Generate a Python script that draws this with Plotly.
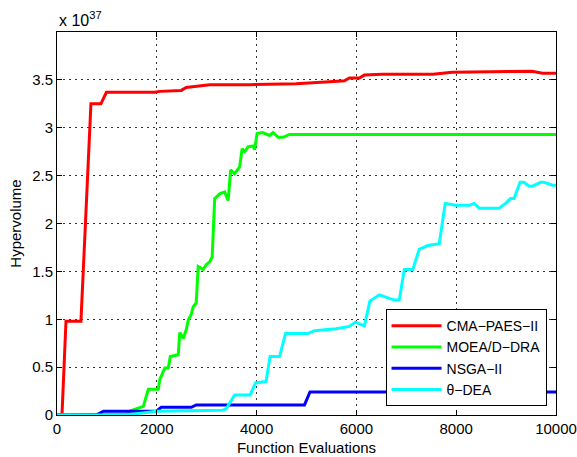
import plotly.graph_objects as go

# ---- data ----
cma_x = [0, 100, 180, 480, 680, 880, 990, 1960, 2060, 2490, 2590, 2860, 3060, 3860, 4790,
         5460, 5760, 5860, 6060, 6160, 6520, 7530, 7920, 9520, 9730, 10000]
cma_y = [0, 0, 0.98, 0.98, 3.25, 3.25, 3.37, 3.37, 3.38, 3.39, 3.42, 3.44, 3.45, 3.45, 3.46,
         3.48, 3.49, 3.52, 3.52, 3.55, 3.56, 3.56, 3.58, 3.59, 3.57, 3.57]

moead_x = [0, 1400, 1460, 1730, 1830, 2030, 2060, 2160, 2230, 2270, 2430, 2460, 2530, 2590,
           2630, 2690, 2730, 2790, 2830, 2930, 2990, 3060, 3110, 3160, 3260, 3360, 3430, 3480,
           3560, 3660, 3710, 3760, 3830, 3930, 3960, 4010, 4120, 4260, 4330, 4430, 4530, 4660,
           10000]
moead_y = [0, 0.01, 0.04, 0.09, 0.27, 0.27, 0.37, 0.49, 0.49, 0.61, 0.63, 0.86, 0.80, 0.89,
           0.99, 1.05, 1.13, 1.17, 1.55, 1.52, 1.57, 1.60, 1.65, 2.26, 2.31, 2.33, 2.24, 2.56,
           2.52, 2.59, 2.78, 2.75, 2.80, 2.81, 2.77, 2.94, 2.95, 2.92, 2.95, 2.90, 2.90, 2.93,
           2.93]

nsga_x = [0, 790, 930, 1990, 2090, 2690, 2790, 4960, 5070, 10000]
nsga_y = [0, 0, 0.04, 0.04, 0.08, 0.08, 0.105, 0.105, 0.24, 0.24]

theta_x = [0, 1390, 1990, 3320, 3390, 3560, 3870, 3980, 4190, 4270, 4460, 4580, 5030, 5160,
           5590, 5860, 5980, 6160, 6270, 6460, 6760, 6860, 6960, 7130, 7260, 7430, 7660, 7780,
           7990, 8260, 8360, 8460, 8860, 8990, 9090, 9160, 9280, 9360, 9460, 9530, 9690, 9760,
           9930, 10000]
theta_y = [0, 0, 0.04, 0.05, 0.065, 0.21, 0.21, 0.335, 0.35, 0.61, 0.61, 0.85, 0.85, 0.88,
           0.90, 0.925, 0.97, 0.93, 1.19, 1.255, 1.20, 1.20, 1.52, 1.52, 1.73, 1.77, 1.79, 2.21,
           2.19, 2.19, 2.21, 2.16, 2.16, 2.21, 2.26, 2.26, 2.43, 2.43, 2.39, 2.39, 2.43, 2.43,
           2.40, 2.40]

names = ["CMA\u2212PAES\u2212II", "MOEA/D\u2212DRA", "NSGA\u2212II", "\u03b8\u2212DEA"]
colors = ["#FF0000", "#00FF00", "#0000FF", "#00FFFF"]

x_ticks = [0, 2000, 4000, 6000, 8000, 10000]
x_tick_labels = ["0", "2000", "4000", "6000", "8000", "10000"]
y_ticks = [0, 0.5, 1, 1.5, 2, 2.5, 3, 3.5]
y_tick_labels = ["0", "0.5", "1", "1.5", "2", "2.5", "3", "3.5"]

font = "Liberation Sans, Arial, Helvetica, sans-serif"

fig = go.Figure()
for xs, ys, nm, col in zip([cma_x, moead_x, nsga_x, theta_x],
                           [cma_y, moead_y, nsga_y, theta_y], names, colors):
    fig.add_trace(go.Scatter(x=xs, y=ys, mode="lines", name=nm,
                             line=dict(color=col, width=3)))

axis_common = dict(
    showline=True, linecolor="black", linewidth=1, mirror="ticks",
    ticks="inside", ticklen=5, tickcolor="black",
    showgrid=True, gridcolor="#333333", gridwidth=1, griddash="2px,4px",
    zeroline=False, automargin=False,
    tickfont=dict(size=15, color="black", family=font),
)

fig.update_xaxes(range=[0, 10000], tickvals=x_ticks, ticktext=x_tick_labels,
                 title=dict(text="Function Evaluations", standoff=6,
                            font=dict(size=15, color="black", family=font)),
                 **axis_common)
fig.update_yaxes(range=[0, 4], tickvals=y_ticks, ticktext=y_tick_labels,
                 title=dict(text="Hypervolume", standoff=6,
                            font=dict(size=15, color="black", family=font)),
                 **axis_common)

fig.add_annotation(text="x 10<sup>37</sup>", xref="paper", yref="paper",
                   x=0, y=1, xanchor="left", yanchor="bottom", yshift=1,
                   showarrow=False, font=dict(size=16, color="black", family=font))

fig.update_layout(
    width=577, height=457,
    margin=dict(l=57, r=21, t=32, b=42),
    paper_bgcolor="white", plot_bgcolor="white",
    font=dict(family=font, size=15, color="black"),
    legend=dict(x=0.981, y=0.023, xanchor="right", yanchor="bottom",
                bgcolor="white", bordercolor="black", borderwidth=1,
                font=dict(size=14, color="black", family=font),
                tracegroupgap=0, itemwidth=50),
    showlegend=True,
)

fig.write_html("out.html", config={"displayModeBar": False},
               post_script="document.body.style.margin='0';document.body.style.overflow='hidden';")
